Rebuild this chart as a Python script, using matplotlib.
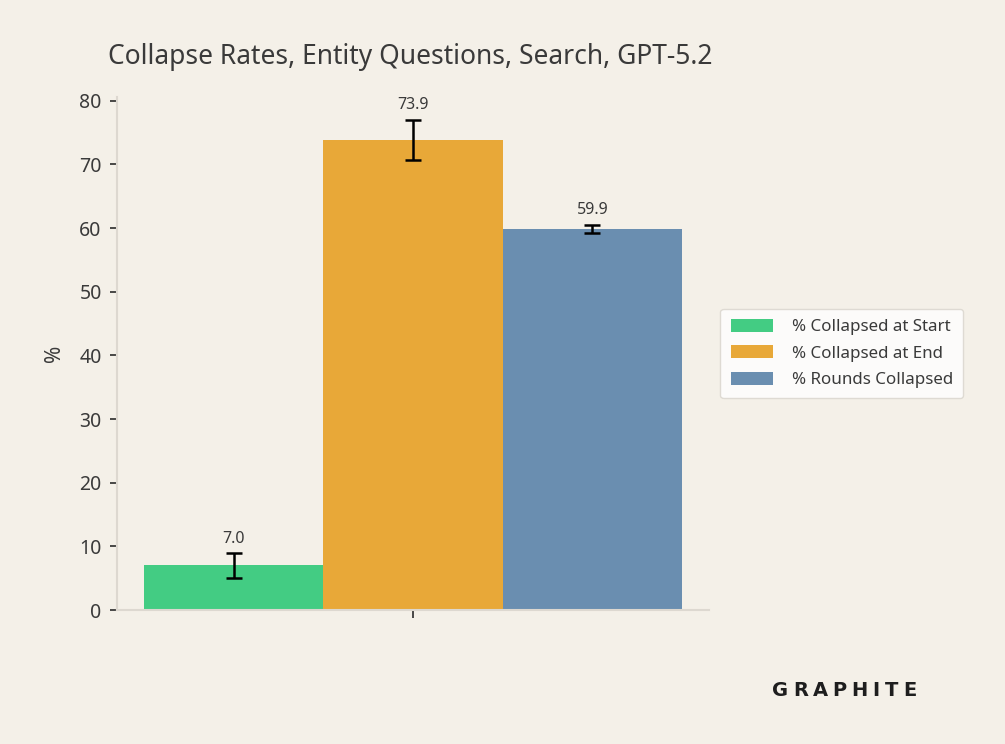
import matplotlib
matplotlib.use("Agg")
import matplotlib.pyplot as plt
import numpy as np

# data
series = ["% Collapsed at Start", "% Collapsed at End", "% Rounds Collapsed"]
values = [7.0, 73.9, 59.9]
errors = [1.9, 3.15, 0.65]
labels = ["7.0", "73.9", "59.9"]
colors = ["#43CC83", "#E8A838", "#6A8EB0"]

bg = "#F4F0E8"
text_col = "#3A3A3A"

plt.rcParams['font.family'] = ['Noto Sans', 'DejaVu Sans']

fig = plt.figure(figsize=(10.05, 7.44), dpi=100, facecolor=bg)
ax = fig.add_axes([0.1164, 0.1801, 0.589, 0.6895], facecolor=bg)

width = 0.25
offsets = (np.arange(len(values)) - 1) * width
for off, v, e, lab, c, name in zip(offsets, values, errors, labels, colors, series):
    ax.bar(off, v, width=width, color=c, label=name, zorder=2)
    ax.errorbar(off, v, yerr=e, fmt='none', ecolor='black', elinewidth=1.8,
                capsize=6, capthick=1.8, zorder=3)
    ax.annotate(lab, (off, v + e), xytext=(0, 4.5), textcoords='offset points',
                ha='center', va='bottom', fontsize=11.5, color=text_col)

ax.set_xlim(-0.4125, 0.4125)
ax.set_ylim(0, 80.6)
ax.set_yticks(np.arange(0, 81, 10))
ax.set_xticks([0])
ax.set_xticklabels([""])
ax.tick_params(axis='y', labelsize=14, colors=text_col, length=5, width=1.3, pad=6)
ax.tick_params(axis='x', length=6, width=1.3, colors=text_col)
for s in ['top', 'right']:
    ax.spines[s].set_visible(False)
for s in ['left', 'bottom']:
    ax.spines[s].set_color("#DDD8D0")
    ax.spines[s].set_linewidth(1.5)

ax.set_ylabel("%", fontsize=15, color=text_col, labelpad=10)

leg = ax.legend(loc='center left', bbox_to_anchor=(1.005, 0.5), fontsize=12.2,
                frameon=True, facecolor='white', edgecolor='#D8D4CC',
                handlelength=2.5, handleheight=0.8, handletextpad=1.1,
                borderpad=0.6, labelspacing=0.6)
for t in leg.get_texts():
    t.set_color(text_col)

fig.text(0.1075, 0.924, "Collapse Rates, Entity Questions, Search, GPT-5.2",
         fontsize=19, color=text_col, ha='left', va='center')

# logo: letters spread evenly between two x positions (pixels)
logo = "GRAPHITE"
fig.canvas.draw()
renderer = fig.canvas.get_renderer()
W, H = fig.bbox.width, fig.bbox.height
texts = [fig.text(0, 0.072, ch, fontsize=14, fontweight='bold',
                  family='DejaVu Sans', color="#1E1E1E", ha='left', va='center')
         for ch in logo]
widths = [t.get_window_extent(renderer).width for t in texts]
left_px, right_px = 772, 916
gap = (right_px - left_px - sum(widths)) / (len(logo) - 1)
x = left_px
for t, w in zip(texts, widths):
    t.set_x(x / W)
    x += w + gap

fig.savefig("out.png", dpi=100, facecolor=bg)
